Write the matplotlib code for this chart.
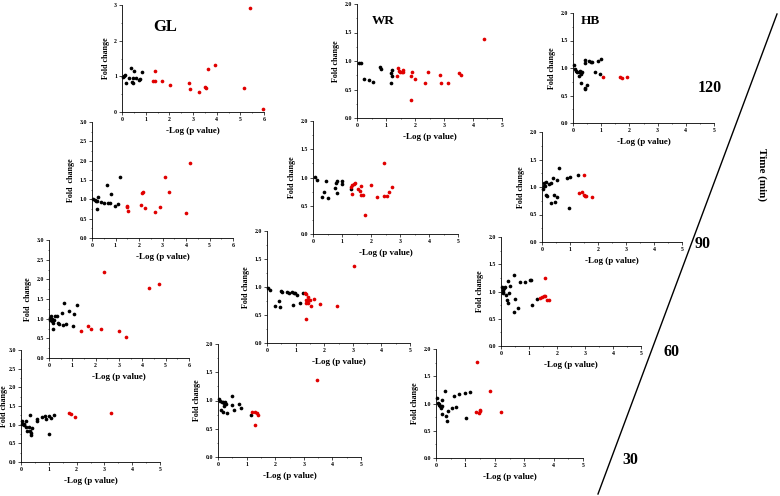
import matplotlib.pyplot as plt
from matplotlib.lines import Line2D
from matplotlib.ticker import MultipleLocator, FormatStrFormatter

plt.rcParams['font.family'] = 'Liberation Serif'
plt.rcParams['font.weight'] = 'bold'

W, H = 780, 496
BLACK = '#000000'
RED = '#e00000'

# ---- data: -log(p) (x) and fold change (y), black = n.s., red = significant ----
# GL, 120 min
gl120_bx = [0.03, 0.08, 0.13, 0.17, 0.31, 0.38, 0.52, 0.41, 0.48, 0.46, 0.59, 0.70, 0.77, 0.84]
gl120_by = [0.98, 1.02, 1.04, 0.80, 0.95, 1.24, 1.15, 0.83, 0.81, 0.94, 0.94, 0.91, 0.92, 1.11]
gl120_rx = [1.40, 1.33, 1.40, 1.69, 2.01, 2.82, 2.87, 3.26, 3.51, 3.57, 3.64, 3.95, 5.17, 5.42, 5.96]
gl120_ry = [1.16, 0.86, 0.86, 0.86, 0.77, 0.80, 0.65, 0.56, 0.69, 0.67, 1.20, 1.31, 0.66, 2.92, 0.08]
# WR, 120 min
wr120_bx = [0.06, 0.15, 0.25, 0.41, 0.54, 0.78, 0.84, 1.18, 1.20, 1.16, 1.21]
wr120_by = [0.97, 0.96, 0.68, 0.67, 0.64, 0.89, 0.86, 0.79, 0.85, 0.61, 0.73]
wr120_rx = [1.40, 1.44, 1.38, 1.49, 1.55, 1.59, 1.59, 1.90, 1.86, 2.01, 1.87, 2.44, 2.33,
            2.85, 2.91, 3.14, 3.52, 3.57, 4.39]
wr120_ry = [0.88, 0.83, 0.73, 0.81, 0.80, 0.85, 0.80, 0.81, 0.73, 0.68, 0.32, 0.81, 0.61,
            0.76, 0.62, 0.61, 0.79, 0.75, 1.38]
# HB, 120 min
hb120_bx = [0.04, 0.06, 0.09, 0.14, 0.20, 0.24, 0.27, 0.22, 0.32, 0.30, 0.41, 0.44, 0.51,
            0.41, 0.41, 0.57, 0.65, 0.67, 0.77, 0.89, 0.98, 0.95]
hb120_by = [1.05, 0.98, 0.95, 0.92, 0.92, 0.94, 0.89, 0.85, 0.92, 0.73, 0.64, 0.61, 0.70,
            1.15, 1.09, 1.12, 1.11, 1.10, 0.92, 1.12, 1.16, 0.90]
hb120_rx = [1.07, 1.67, 1.73, 1.93]
hb120_ry = [0.83, 0.83, 0.82, 0.84]
# GL, 90 min
gl90_bx = [0.06, 0.11, 0.17, 0.23, 0.21, 0.27, 0.38, 0.51, 0.62, 0.69, 0.76, 0.81, 0.98, 1.09, 1.19]
gl90_by = [1.00, 0.97, 0.95, 0.96, 0.76, 1.07, 0.94, 0.91, 1.36, 0.91, 0.91, 1.13, 0.84, 0.88, 1.59]
gl90_rx = [1.47, 1.51, 1.54, 2.07, 2.14, 2.18, 2.25, 2.67, 2.91, 3.10, 3.28, 4.02, 4.19]
gl90_ry = [0.84, 0.81, 0.70, 0.86, 1.16, 1.20, 0.78, 0.66, 0.81, 1.59, 1.18, 0.64, 1.95]
# WR, 90 min
wr90_bx = [0.07, 0.14, 0.31, 0.39, 0.46, 0.52, 0.75, 0.78, 0.83, 0.83, 0.99, 1.01, 1.30]
wr90_by = [1.01, 0.95, 0.66, 0.75, 0.93, 0.63, 0.82, 0.91, 0.93, 0.72, 0.93, 0.88, 0.80]
wr90_rx = [1.31, 1.36, 1.40, 1.44, 1.36, 1.55, 1.64, 1.63, 1.64, 1.74, 1.78, 2.01, 2.21,
           2.46, 2.45, 2.56, 2.62, 2.71]
wr90_ry = [0.83, 0.86, 0.88, 0.90, 0.71, 0.80, 0.85, 0.76, 0.69, 0.69, 0.34, 0.87, 0.65,
           1.25, 0.67, 0.67, 0.74, 0.83]
# HB, 90 min
hb90_bx = [0.04, 0.06, 0.07, 0.11, 0.14, 0.15, 0.19, 0.25, 0.31, 0.31, 0.39, 0.43, 0.48,
           0.55, 0.55, 0.61, 0.89, 0.99, 0.96, 1.29]
hb90_by = [0.97, 1.02, 1.07, 1.01, 1.10, 0.85, 0.84, 1.05, 1.08, 0.71, 1.16, 0.85, 0.72,
           1.12, 0.82, 1.35, 1.17, 1.18, 0.62, 1.21]
hb90_rx = [1.31, 1.42, 1.49, 1.54, 1.58, 1.50, 1.77]
hb90_ry = [0.89, 0.91, 0.85, 0.83, 0.83, 1.21, 0.82]
# GL, 60 min
gl60_bx = [0.04, 0.06, 0.07, 0.11, 0.14, 0.18, 0.16, 0.23, 0.25, 0.33, 0.37, 0.44, 0.54,
           0.61, 0.65, 0.72, 0.84, 1.01, 1.06, 1.22]
gl60_by = [1.02, 0.97, 1.06, 0.93, 0.99, 0.89, 0.74, 0.96, 1.06, 1.08, 0.89, 0.86, 1.14,
           0.85, 1.40, 0.86, 1.19, 0.81, 1.11, 1.34]
gl60_rx = [1.36, 1.69, 1.82, 2.21, 2.34, 3.02, 3.28, 4.27, 4.70]
gl60_ry = [0.69, 0.82, 0.75, 0.74, 2.19, 0.68, 0.53, 1.78, 1.88]
# WR, 60 min
wr60_bx = [0.03, 0.12, 0.27, 0.42, 0.47, 0.49, 0.52, 0.70, 0.76, 0.87, 0.93, 0.91, 0.99,
           1.05, 1.16, 1.26]
wr60_by = [0.99, 0.95, 0.66, 0.75, 0.64, 0.93, 0.91, 0.91, 0.89, 0.91, 0.90, 0.67, 0.89,
           0.85, 0.72, 0.89]
wr60_rx = [1.34, 1.37, 1.42, 1.35, 1.35, 1.42, 1.45, 1.51, 1.55, 1.63, 1.86, 1.35, 2.44, 3.05]
wr60_ry = [0.90, 0.88, 0.82, 0.77, 0.72, 0.72, 0.77, 0.76, 0.66, 0.79, 0.69, 0.43, 0.66, 1.38]
# HB, 60 min
hb60_bx = [0.04, 0.06, 0.07, 0.07, 0.12, 0.15, 0.19, 0.20, 0.24, 0.25, 0.29, 0.33, 0.45,
           0.49, 0.45, 0.61, 0.69, 0.87, 1.02, 1.08, 1.11, 1.29]
hb60_by = [1.09, 1.03, 1.00, 0.97, 1.06, 1.08, 0.94, 0.85, 0.78, 1.19, 0.98, 1.10, 1.31,
           0.86, 0.63, 0.69, 1.17, 1.17, 1.21, 1.21, 0.75, 0.87]
hb60_rx = [1.38, 1.46, 1.52, 1.58, 1.64, 1.70, 1.58]
hb60_ry = [0.88, 0.90, 0.91, 0.92, 0.85, 0.85, 1.24]
# GL, 30 min
gl30_bx = [0.04, 0.05, 0.10, 0.12, 0.17, 0.19, 0.22, 0.28, 0.31, 0.34, 0.36, 0.37, 0.39,
           0.57, 0.57, 0.75, 0.85, 0.91, 0.99, 1.00, 1.09, 1.17]
gl30_by = [1.11, 1.02, 1.01, 0.98, 0.94, 1.10, 0.84, 0.93, 1.27, 0.84, 0.77, 0.72, 0.90,
           1.16, 1.11, 1.20, 1.22, 1.16, 1.24, 0.76, 1.19, 1.25]
gl30_rx = [1.71, 1.81, 1.96, 3.23]
gl30_ry = [1.31, 1.28, 1.20, 1.31]
# WR, 30 min
wr30_bx = [0.04, 0.08, 0.13, 0.18, 0.21, 0.12, 0.18, 0.27, 0.23, 0.32, 0.50, 0.49, 0.55,
           0.74, 0.79, 1.17, 0.20]
wr30_by = [1.02, 1.00, 0.97, 0.98, 0.95, 0.83, 0.80, 0.94, 0.98, 0.77, 1.08, 0.92, 0.84,
           0.93, 0.86, 0.75, 0.91]
wr30_rx = [1.20, 1.31, 1.38, 1.41, 1.29, 3.47]
wr30_ry = [0.79, 0.79, 0.77, 0.74, 0.57, 1.36]
# HB, 30 min
hb30_bx = [0.03, 0.06, 0.09, 0.15, 0.17, 0.20, 0.20, 0.29, 0.35, 0.37, 0.40, 0.56, 0.60,
           0.68, 0.79, 0.99, 1.02, 1.17, 0.09, 0.20]
hb30_by = [1.10, 1.01, 0.98, 0.95, 0.92, 1.06, 0.80, 1.23, 0.77, 0.68, 0.86, 0.92, 1.13,
           0.93, 1.17, 1.20, 0.73, 1.21, 1.00, 0.96]
hb30_rx = [1.39, 1.37, 1.45, 1.49, 1.51, 1.83, 2.21]
hb30_ry = [1.77, 0.85, 0.83, 0.88, 0.86, 1.23, 0.85]

time_labels = ['120', '90', '60', '30']
tissue_labels = ['GL', 'WR', 'HB']

fig = plt.figure(figsize=(W / 100, H / 100), dpi=100)


def panel(box, xmax, ymax, bx, by, rx, ry, ylabel='Fold change', int_y=False, ypad=3):
    # box = (left px, top px, right px, bottom px) of the plotting area
    x0, yt, x1, yb = box
    ax = fig.add_axes([x0 / W, 1 - yb / H, (x1 - x0) / W, (yb - yt) / H])
    ax.set_facecolor('none')
    ax.scatter(bx, by, s=7, color=BLACK, linewidths=0, clip_on=False, zorder=3)
    ax.scatter(rx, ry, s=7, color=RED, linewidths=0, clip_on=False, zorder=3)
    ax.set_xlim(0, xmax)
    ax.set_ylim(0, ymax)
    ax.spines['top'].set_visible(False)
    ax.spines['right'].set_visible(False)
    for s in ('left', 'bottom'):
        ax.spines[s].set_linewidth(0.6)
    ax.xaxis.set_major_locator(MultipleLocator(1))
    ax.xaxis.set_minor_locator(MultipleLocator(0.5))
    if int_y:
        ax.yaxis.set_major_locator(MultipleLocator(1))
        ax.yaxis.set_minor_locator(MultipleLocator(0.5))
        ax.yaxis.set_major_formatter(FormatStrFormatter('%d'))
    else:
        ax.yaxis.set_major_locator(MultipleLocator(0.5))
        ax.yaxis.set_minor_locator(MultipleLocator(0.25))
        ax.yaxis.set_major_formatter(FormatStrFormatter('%.1f'))
    ax.tick_params(which='major', length=2, width=0.5, labelsize=4.2, pad=1.5)
    ax.tick_params(which='minor', length=1, width=0.4)
    ax.set_xlabel('-Log (p value)', fontsize=6.5, fontweight='bold', labelpad=4)
    ax.set_ylabel(ylabel, fontsize=5.8, fontweight='bold', labelpad=ypad)
    return ax


# 120 min row
panel((122, 5, 264, 112), 6, 3, gl120_bx, gl120_by, gl120_rx, gl120_ry, int_y=True)
panel((357, 4, 502, 118), 5, 2, wr120_bx, wr120_by, wr120_rx, wr120_ry)
panel((573, 13, 714, 123), 5, 2, hb120_bx, hb120_by, hb120_rx, hb120_ry)
# 90 min row
panel((92, 122, 233, 238), 6, 3, gl90_bx, gl90_by, gl90_rx, gl90_ry, ylabel='Fold  change')
panel((313, 121, 458, 234), 5, 2, wr90_bx, wr90_by, wr90_rx, wr90_ry)
panel((542, 132, 682, 242), 5, 2, hb90_bx, hb90_by, hb90_rx, hb90_ry)
# 60 min row
panel((49, 240, 189, 358), 6, 3, gl60_bx, gl60_by, gl60_rx, gl60_ry, ylabel='Fold  change')
panel((267, 231, 410, 343), 5, 2, wr60_bx, wr60_by, wr60_rx, wr60_ry)
panel((501, 237, 641, 346), 5, 2, hb60_bx, hb60_by, hb60_rx, hb60_ry)
# 30 min row
panel((21, 350, 160, 462), 5, 3, gl30_bx, gl30_by, gl30_rx, gl30_ry, ypad=0.3)
panel((218, 344, 361, 457), 5, 2, wr30_bx, wr30_by, wr30_rx, wr30_ry)
panel((436, 349, 583, 458), 5, 2, hb30_bx, hb30_by, hb30_rx, hb30_ry)

# tissue titles
fig.text(165 / W, 1 - 27 / H, tissue_labels[0], fontsize=12, fontweight='bold', ha='center', va='center')
fig.text(383 / W, 1 - 21 / H, tissue_labels[1], fontsize=9.5, fontweight='bold', ha='center', va='center')
fig.text(590 / W, 1 - 21 / H, tissue_labels[2], fontsize=9.5, fontweight='bold', ha='center', va='center')

# time axis
fig.add_artist(Line2D([598 / W, 777 / W], [1 - 494 / H, 1 - 14 / H], color='black', lw=1.0))
for lab, (px, py) in zip(time_labels, [(710, 88), (703, 244), (671, 352), (630, 460)]):
    fig.text(px / W, 1 - py / H, lab, fontsize=11.5, fontweight='bold', ha='center', va='center')
fig.text(762 / W, 1 - 175 / H, 'Time (min)', fontsize=8, fontweight='bold',
         rotation=-90, ha='center', va='center')

fig.savefig('out.png', dpi=100)
